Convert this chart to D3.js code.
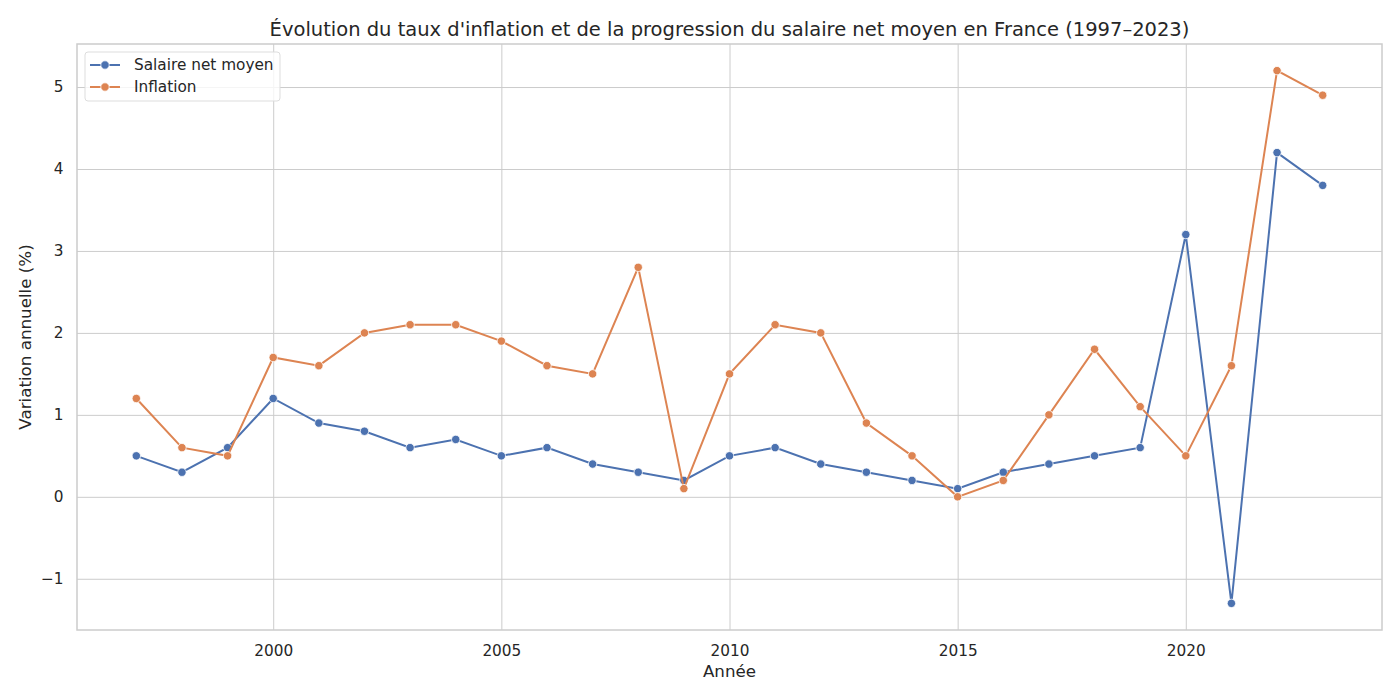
<!DOCTYPE html>
<html>
<head>
<meta charset="utf-8">
<script src="https://cdn.jsdelivr.net/npm/d3@7"></script>
<style>
  body { margin: 0; background: #fff; }
  text { font-family: "DejaVu Sans", sans-serif; fill: #262626; }
</style>
</head>
<body>
<script>
// annees et series (variation annuelle en %)
var years = [1997, 1998, 1999, 2000, 2001, 2002, 2003, 2004, 2005, 2006, 2007, 2008, 2009,
             2010, 2011, 2012, 2013, 2014, 2015, 2016, 2017, 2018, 2019, 2020, 2021, 2022, 2023];
var salaire = [0.5, 0.3, 0.6, 1.2, 0.9, 0.8, 0.6, 0.7, 0.5, 0.6, 0.4, 0.3, 0.2,
               0.5, 0.6, 0.4, 0.3, 0.2, 0.1, 0.3, 0.4, 0.5, 0.6, 3.2, -1.3, 4.2, 3.8];
var inflation = [1.2, 0.6, 0.5, 1.7, 1.6, 2.0, 2.1, 2.1, 1.9, 1.6, 1.5, 2.8, 0.1,
                 1.5, 2.1, 2.0, 0.9, 0.5, 0.0, 0.2, 1.0, 1.8, 1.1, 0.5, 1.6, 5.2, 4.9];
var xTicks = [2000, 2005, 2010, 2015, 2020];
var yTicks = [-1, 0, 1, 2, 3, 4, 5];
var seriesNames = ["Salaire net moyen", "Inflation"];

var W = 1400, H = 700;
var margin = {top: 44, right: 18, bottom: 70, left: 77};
var width = W - margin.left - margin.right,
    height = H - margin.top - margin.bottom;

var color = d3.scaleOrdinal().domain(seriesNames).range(["#4c72b0", "#dd8452"]);

var series = [
  {name: seriesNames[0], values: years.map(function(y, i) { return {year: y, v: salaire[i]}; })},
  {name: seriesNames[1], values: years.map(function(y, i) { return {year: y, v: inflation[i]}; })}
];

// marges de 5% comme matplotlib
var xExt = d3.extent(years), xPad = (xExt[1] - xExt[0]) * 0.05;
var allV = salaire.concat(inflation);
var yExt = d3.extent(allV), yPad = (yExt[1] - yExt[0]) * 0.05;

var x = d3.scaleLinear().domain([xExt[0] - xPad, xExt[1] + xPad]).range([0, width]);
var y = d3.scaleLinear().domain([yExt[0] - yPad, yExt[1] + yPad]).range([height, 0]);

var svg = d3.select("body").append("svg")
    .attr("width", W).attr("height", H);

var g = svg.append("g")
    .attr("transform", "translate(" + margin.left + "," + margin.top + ")");

// grille
g.append("g")
    .attr("class", "grid")
    .call(d3.axisLeft(y).tickValues(yTicks).tickSize(-width).tickFormat(""))
    .call(function(s) { s.select(".domain").remove(); })
    .selectAll("line").attr("stroke", "#cccccc").attr("stroke-width", 1);

g.append("g")
    .attr("class", "grid")
    .attr("transform", "translate(0," + height + ")")
    .call(d3.axisBottom(x).tickValues(xTicks).tickSize(-height).tickFormat(""))
    .call(function(s) { s.select(".domain").remove(); })
    .selectAll("line").attr("stroke", "#cccccc").attr("stroke-width", 1);

// axes (labels seulement)
var xAxis = g.append("g")
    .attr("transform", "translate(0," + height + ")")
    .call(d3.axisBottom(x).tickValues(xTicks).tickSize(0).tickPadding(15).tickFormat(d3.format("d")));
xAxis.select(".domain").remove();
xAxis.selectAll("text").style("font-size", "15.3px").style("font-family", "DejaVu Sans").attr("fill", "#262626");

var yAxis = g.append("g")
    .call(d3.axisLeft(y).tickValues(yTicks).tickSize(0).tickPadding(13.5)
      .tickFormat(function(d) { return d < 0 ? "\u2212" + Math.abs(d) : d; }));
yAxis.select(".domain").remove();
yAxis.selectAll("text").style("font-size", "15.3px").style("font-family", "DejaVu Sans").attr("fill", "#262626");

// cadre
g.append("rect")
    .attr("width", width).attr("height", height)
    .attr("fill", "none").attr("stroke", "#cccccc").attr("stroke-width", 1.5);

// courbes
var line = d3.line()
    .x(function(d) { return x(d.year); })
    .y(function(d) { return y(d.v); });

series.forEach(function(s) {
  g.append("path")
      .datum(s.values)
      .attr("fill", "none")
      .attr("stroke", color(s.name))
      .attr("stroke-width", 2)
      .attr("d", line);

  g.selectAll(null)
      .data(s.values)
      .enter().append("circle")
      .attr("cx", function(d) { return x(d.year); })
      .attr("cy", function(d) { return y(d.v); })
      .attr("r", 4.2)
      .attr("fill", color(s.name))
      .attr("stroke", "#fff")
      .attr("stroke-width", 0.8);
});

// legende
var leg = g.append("g").attr("transform", "translate(8,8)");
leg.append("rect")
    .attr("width", 195).attr("height", 49)
    .attr("rx", 3)
    .attr("fill", "#fff").attr("fill-opacity", 0.8)
    .attr("stroke", "#dddddd");

seriesNames.forEach(function(n, i) {
  var row = leg.append("g").attr("transform", "translate(0," + (13 + i * 22) + ")");
  row.append("line")
      .attr("x1", 5).attr("x2", 35)
      .attr("stroke", color(n)).attr("stroke-width", 2);
  row.append("circle")
      .attr("cx", 20).attr("r", 4.2)
      .attr("fill", color(n)).attr("stroke", "#fff").attr("stroke-width", 0.8);
  row.append("text")
      .attr("x", 49).attr("dy", "0.35em")
      .style("font-size", "15.3px")
      .text(n);
});

// titres
svg.append("text")
    .attr("x", margin.left + width / 2).attr("y", 36)
    .attr("text-anchor", "middle")
    .style("font-size", "19.5px")
    .text("\u00c9volution du taux d'inflation et de la progression du salaire net moyen en France (1997\u20132023)");

svg.append("text")
    .attr("x", margin.left + width / 2).attr("y", 677)
    .attr("text-anchor", "middle")
    .style("font-size", "16.7px")
    .text("Ann\u00e9e");

svg.append("text")
    .attr("transform", "translate(31," + (margin.top + height / 2) + ") rotate(-90)")
    .attr("text-anchor", "middle")
    .style("font-size", "16.7px")
    .text("Variation annuelle (%)");
</script>
</body>
</html>
